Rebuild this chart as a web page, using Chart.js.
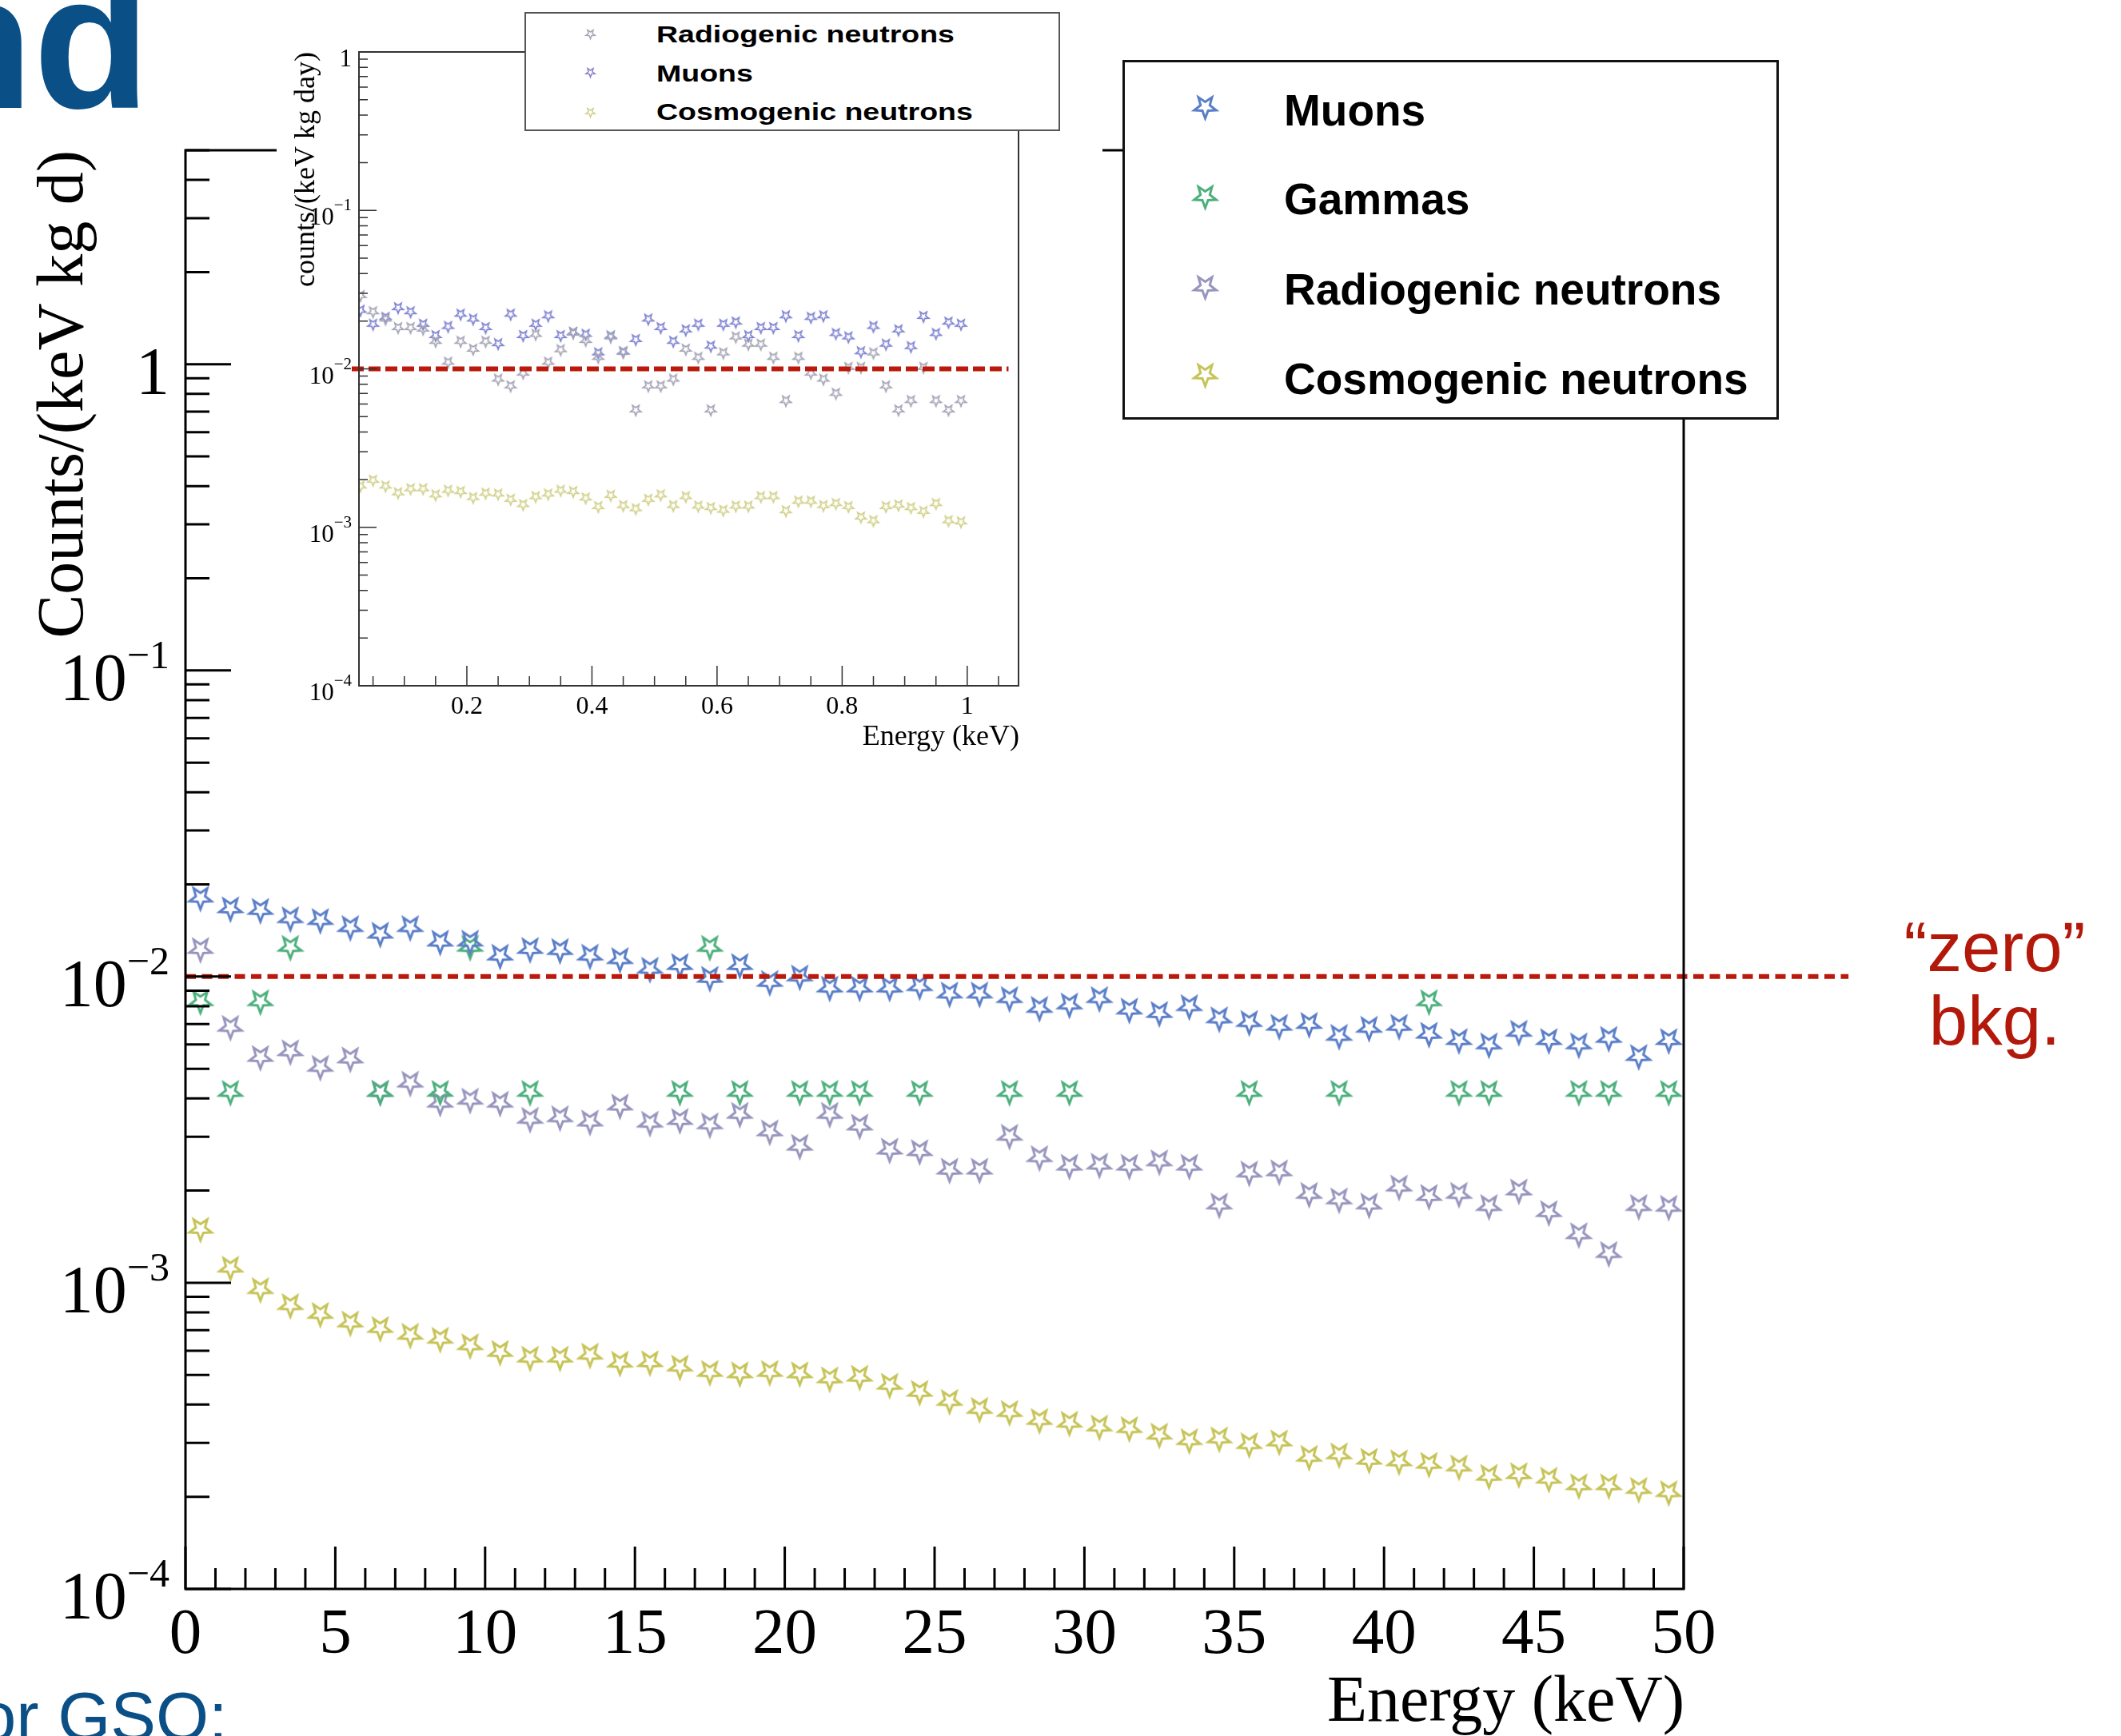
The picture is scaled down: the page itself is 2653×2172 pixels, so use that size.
<!DOCTYPE html>
<html>
<head>
<meta charset="utf-8">
<title>Background spectra</title>
<script src="https://cdn.jsdelivr.net/npm/chart.js@4.4.1/dist/chart.umd.min.js"></script>
<style>
  html, body { margin: 0; padding: 0; background: #fff; }
  #page { position: relative; width: 2653px; height: 2172px; overflow: hidden; background: #fff; }
  #main-chart { position: absolute; left: 0; top: 0; }
  #inset-pad { position: absolute; left: 346px; top: 0; width: 1033px; height: 960px; background: #fff; }
  #inset-chart { position: absolute; left: 0; top: 0; }
  .legend { position: absolute; box-sizing: border-box; background: #fff; }
  #main-legend { left: 1404px; top: 75px; width: 821px; height: 450px; border: 3px solid #111; }
  #inset-legend { left: 656px; top: 15px; width: 670px; height: 149px; border: 2px solid #555; }
  .legend .entry { position: absolute; white-space: nowrap; line-height: 1; color: #000;
    font-family: "Liberation Sans", Arial, sans-serif; font-weight: bold; transform-origin: left top; }
  .legend canvas { position: absolute; }
  .slide-text { position: absolute; white-space: nowrap; line-height: 1; font-family: "Liberation Sans", Arial, sans-serif; }
  #slide-title { left: -105px; top: -68px; font-size: 240px; font-weight: bold; color: #0b4f87; }
  #slide-sub { left: -27px; top: 2105px; font-size: 85px; color: #0b4f87; }
  #zero-note { left: 2315px; top: 1139px; width: 360px; text-align: center; font-size: 87px; line-height: 92px; color: #b3190b; }
</style>
</head>
<body>
<div id="page">
  <canvas id="main-chart" width="2653" height="2172"></canvas>
  <div id="inset-pad"><canvas id="inset-chart" width="1033" height="960"></canvas></div>
  <div class="legend" id="inset-legend"></div>
  <div class="legend" id="main-legend"></div>
  <div class="slide-text" id="slide-title">nd</div>
  <div class="slide-text" id="slide-sub">or GSO:</div>
  <div class="slide-text" id="zero-note">“zero”<br>bkg.</div>
</div>
<script>
/* ---------- main spectrum, 1 keV bins ---------- */
const energyBins = [
  0.5, 1.5, 2.5, 3.5, 4.5, 5.5, 6.5, 7.5, 8.5, 9.5,
  10.5, 11.5, 12.5, 13.5, 14.5, 15.5, 16.5, 17.5, 18.5, 19.5,
  20.5, 21.5, 22.5, 23.5, 24.5, 25.5, 26.5, 27.5, 28.5, 29.5,
  30.5, 31.5, 32.5, 33.5, 34.5, 35.5, 36.5, 37.5, 38.5, 39.5,
  40.5, 41.5, 42.5, 43.5, 44.5, 45.5, 46.5, 47.5, 48.5, 49.5
];

const muonsMain = [
  0.0181, 0.0167, 0.0165, 0.0155, 0.0153, 0.0145, 0.0138, 0.0145, 0.0130, 0.0130,
  0.0117, 0.0123, 0.0122, 0.0117, 0.0114, 0.0106, 0.0109, 0.0099, 0.0109, 0.0096,
  0.0100, 0.0092, 0.0092, 0.0092, 0.0093, 0.0088, 0.0088, 0.0085, 0.0079, 0.0081,
  0.0085, 0.0078, 0.0076, 0.0080, 0.0073, 0.0071, 0.0069, 0.0070, 0.0064, 0.0068,
  0.0069, 0.0065, 0.0062, 0.0060, 0.0066, 0.0062, 0.0060, 0.0063, 0.0055, 0.0062
];

// empty bins are null (nothing drawn on a log axis)
const gammasMain = [
  0.0083, 0.0042, 0.0083, 0.0125, null, null, 0.0042, null, 0.0042, 0.0125,
  null, 0.0042, null, null, null, null, 0.0042, 0.0125, 0.0042, null,
  0.0042, 0.0042, 0.0042, null, 0.0042, null, null, 0.0042, null, 0.0042,
  null, null, null, null, null, 0.0042, null, null, 0.0042, null,
  null, 0.0083, 0.0042, 0.0042, null, null, 0.0042, 0.0042, null, 0.0042
];

const radiogenicMain = [
  0.0123, 0.00685, 0.00546, 0.0057, 0.00507, 0.0054, 0.0042, 0.0045, 0.00387, 0.00396,
  0.00387, 0.00343, 0.00347, 0.00336, 0.00379, 0.00333, 0.0034, 0.00329, 0.00356, 0.00312,
  0.0028, 0.00356, 0.00326, 0.00272, 0.00269, 0.00234, 0.00234, 0.00302, 0.00257, 0.00241,
  0.00243, 0.00241, 0.00249, 0.00241, 0.0018, 0.00229, 0.00231, 0.00195, 0.00187, 0.0018,
  0.00206, 0.00192, 0.00195, 0.00178, 0.0020, 0.0017, 0.00144, 0.00125, 0.00178, 0.00177
];

const cosmogenicMain = [
  0.0015, 0.00112, 0.000953, 0.000845, 0.000791, 0.000741, 0.000711, 0.000676, 0.000656, 0.000625,
  0.000594, 0.000569, 0.000569, 0.000582, 0.000548, 0.00055, 0.000532, 0.000511, 0.000506, 0.000511,
  0.000506, 0.000487, 0.000493, 0.000464, 0.00044, 0.000411, 0.000387, 0.000378, 0.000356, 0.000349,
  0.000339, 0.000335, 0.000319, 0.000306, 0.00031, 0.000297, 0.000303, 0.00027, 0.000275, 0.000264,
  0.000261, 0.000256, 0.000251, 0.000234, 0.000237, 0.000229, 0.000218, 0.000218, 0.000212, 0.000207
];

/* ---------- low-energy zoom, 20 eV bins ---------- */
const insetEnergy = [
  0.03, 0.05, 0.07, 0.09, 0.11, 0.13, 0.15, 0.17, 0.19, 0.21,
  0.23, 0.25, 0.27, 0.29, 0.31, 0.33, 0.35, 0.37, 0.39, 0.41,
  0.43, 0.45, 0.47, 0.49, 0.51, 0.53, 0.55, 0.57, 0.59, 0.61,
  0.63, 0.65, 0.67, 0.69, 0.71, 0.73, 0.75, 0.77, 0.79, 0.81,
  0.83, 0.85, 0.87, 0.89, 0.91, 0.93, 0.95, 0.97, 0.99
];

const insetRadiogenic = [
  0.029, 0.0229, 0.0206, 0.0182, 0.0182, 0.0178, 0.0149, 0.0110, 0.0149, 0.0133,
  0.0149, 0.0086, 0.0078, 0.0094, 0.0165, 0.0110, 0.0132, 0.0168, 0.0151, 0.0118,
  0.0159, 0.0127, 0.0055, 0.0078, 0.0078, 0.0086, 0.0133, 0.0118, 0.0055, 0.0126,
  0.0159, 0.0143, 0.0143, 0.0118, 0.0063, 0.0118, 0.0094, 0.0086, 0.0070, 0.0102,
  0.0102, 0.0126, 0.0078, 0.0055, 0.0063, 0.0102, 0.0063, 0.0055, 0.0063
];

const insetMuons = [
  0.0234, 0.0191, 0.0211, 0.0243, 0.0229, 0.0191, 0.0162, 0.0185, 0.0221, 0.0206,
  0.0182, 0.0144, 0.0221, 0.0162, 0.0191, 0.0216, 0.0162, 0.0170, 0.0165, 0.0126,
  0.0161, 0.0128, 0.0153, 0.0206, 0.0182, 0.0149, 0.0176, 0.0191, 0.0139, 0.0191,
  0.0197, 0.0162, 0.0182, 0.0182, 0.0216, 0.0162, 0.0211, 0.0216, 0.0167, 0.0159,
  0.0128, 0.0185, 0.0143, 0.0176, 0.0138, 0.0214, 0.0167, 0.0197, 0.0191
];

const insetCosmogenic = [
  0.00182, 0.00198, 0.00182, 0.00165, 0.00175, 0.00175, 0.00160, 0.00171, 0.00168, 0.00154,
  0.00164, 0.00162, 0.00150, 0.00139, 0.00156, 0.00162, 0.00171, 0.00168, 0.00153, 0.00135,
  0.00159, 0.00137, 0.00131, 0.00150, 0.00160, 0.00137, 0.00156, 0.00136, 0.00133, 0.00128,
  0.00136, 0.00136, 0.00156, 0.00156, 0.00127, 0.00146, 0.00146, 0.00137, 0.00141, 0.00135,
  0.00116, 0.00110, 0.00135, 0.00138, 0.00133, 0.00126, 0.00141, 0.00110, 0.00108
];

/* ---------- axes ---------- */
const mainXTickValues = [0, 5, 10, 15, 20, 25, 30, 35, 40, 45, 50];
const mainXTickLabels = ['0', '5', '10', '15', '20', '25', '30', '35', '40', '45', '50'];
const insetXTickValues = [0.2, 0.4, 0.6, 0.8, 1];
const insetXTickLabels = ['0.2', '0.4', '0.6', '0.8', '1'];
const yDecades = [1e-4, 1e-3, 1e-2, 1e-1, 1];
const yExponents = [-4, -3, -2, -1, 0];

const ZERO_BKG = 1e-2;

const mainNames = ['Muons', 'Gammas', 'Radiogenic neutrons', 'Cosmogenic neutrons'];
const insetNames = ['Radiogenic neutrons', 'Muons', 'Cosmogenic neutrons'];

const COLORS = {
  muons: '#5a7ec8',
  gammas: '#4caf7c',
  radiogenic: '#9795bd',
  cosmogenic: '#c6c357',
  insetMuons: '#7f83d2',
  insetRadiogenic: '#a5a5b6',
  insetCosmogenic: '#d2d18c',
  zero: '#bb190b'
};

/**
 * Open five-point star (point down), returned as a canvas usable as pointStyle
 */
function starImage(color, r, lw) {
  const size = Math.ceil(2 * r + 2 * lw + 4);
  const c = document.createElement('canvas');
  c.width = size;
  c.height = size;
  const g = c.getContext('2d');
  const cx = size / 2, cy = size / 2;
  g.beginPath();
  for (let k = 0; k < 10; k++) {
    const rad = k % 2 === 0 ? r : r * 0.42;
    const a = Math.PI / 2 + k * Math.PI / 5;
    g.lineTo(cx + rad * Math.cos(a), cy + rad * Math.sin(a));
  }
  g.closePath();
  g.strokeStyle = color;
  g.lineWidth = lw;
  g.lineJoin = 'miter';
  g.stroke();
  return c;
}

function toPoints(xs, ys) {
  return xs.map((x, i) => ({ x: x, y: ys[i] })).filter(p => p.y !== null);
}

function stepList(from, to, step) {
  const out = [];
  for (let i = 0; from + i * step <= to + 1e-9; i++) {
    out.push(Math.round((from + i * step) * 1e6) / 1e6);
  }
  return out;
}

/** "10" with a raised exponent, right-aligned at x */
function drawPower(ctx, x, y, exp, o) {
  ctx.textAlign = 'right';
  if (exp === 0) {
    ctx.font = o.baseFont;
    ctx.fillText('1', x, y);
    return;
  }
  const sup = '\u2212' + Math.abs(exp);
  ctx.font = o.supFont;
  const w = ctx.measureText(sup).width;
  ctx.fillText(sup, x, y - o.supRaise);
  ctx.font = o.baseFont;
  ctx.fillText('10', x - w, y);
}

/**
 * ROOT-style frame: box, inward ticks, log labels, axis titles
 */
const rootFrame = {
  id: 'rootFrame',
  afterDraw(chart, args, o) {
    const { ctx, chartArea: a } = chart;
    const xs = chart.scales.x, ys = chart.scales.y;
    ctx.save();
    ctx.strokeStyle = o.color;
    ctx.fillStyle = '#000';

    ctx.lineWidth = o.frameWidth;
    ctx.strokeRect(a.left, a.top, a.right - a.left, a.bottom - a.top);

    ctx.lineWidth = o.tickWidth;
    ctx.beginPath();
    o.xTicks.forEach(v => {
      const px = xs.getPixelForValue(v);
      const major = o.xLabelValues.some(m => Math.abs(m - v) < 1e-6);
      ctx.moveTo(px, a.bottom);
      ctx.lineTo(px, a.bottom - (major ? o.xMajorLen : o.xMinorLen));
    });
    yDecades.forEach(d => {
      for (let m = 1; m <= 9; m++) {
        const v = m * d;
        if (v > ys.max * 1.0001) continue;
        const py = ys.getPixelForValue(v);
        ctx.moveTo(a.left, py);
        ctx.lineTo(a.left + (m === 1 ? o.yMajorLen : o.yMinorLen), py);
      }
    });
    ctx.stroke();

    // tick labels
    ctx.textBaseline = 'alphabetic';
    ctx.textAlign = 'center';
    ctx.font = o.xLabelFont;
    o.xLabelValues.forEach((v, i) => {
      ctx.fillText(o.xLabels[i], xs.getPixelForValue(v), a.bottom + o.xLabelDrop);
    });
    yDecades.forEach((d, i) => {
      drawPower(ctx, a.left - o.yLabelGap, ys.getPixelForValue(d) + o.yLabelDrop, yExponents[i], o);
    });

    // axis titles, both flush with the axis end
    ctx.font = o.titleFont;
    ctx.textAlign = 'right';
    ctx.fillText(o.xTitle, a.right + 1, a.bottom + o.xTitleDrop);
    ctx.font = o.yTitleFont;
    ctx.translate(o.yTitleX, a.top);
    ctx.rotate(-Math.PI / 2);
    ctx.fillText(o.yTitle, 0, 0);
    ctx.restore();
  }
};

function zeroLine(x0, x1, width, dash) {
  return {
    type: 'line',
    label: 'zero',
    data: [{ x: x0, y: ZERO_BKG }, { x: x1, y: ZERO_BKG }],
    borderColor: COLORS.zero,
    borderWidth: width,
    borderDash: dash,
    pointRadius: 0,
    clip: false,
    order: 0
  };
}

function starSet(label, xs, ys, img) {
  return {
    label: label,
    data: toPoints(xs, ys),
    pointStyle: img,
    pointRadius: 10,
    order: 1
  };
}

const serif = '"Liberation Serif", "Times New Roman", serif';

/* ---------- main chart ---------- */
const mainStars = {
  muons: starImage(COLORS.muons, 14.5, 3),
  gammas: starImage(COLORS.gammas, 14.5, 3),
  radiogenic: starImage(COLORS.radiogenic, 14.5, 3),
  cosmogenic: starImage(COLORS.cosmogenic, 14.5, 3)
};

new Chart(document.getElementById('main-chart'), {
  type: 'scatter',
  data: {
    datasets: [
      zeroLine(0, 55.5, 6, [13, 7.5]),
      starSet(mainNames[0], energyBins, muonsMain, mainStars.muons),
      starSet(mainNames[1], energyBins, gammasMain, mainStars.gammas),
      starSet(mainNames[2], energyBins, radiogenicMain, mainStars.radiogenic),
      starSet(mainNames[3], energyBins, cosmogenicMain, mainStars.cosmogenic)
    ]
  },
  options: {
    responsive: false,
    animation: false,
    events: [],
    layout: { padding: { left: 232, top: 188, right: 547, bottom: 184 } },
    scales: {
      x: { type: 'linear', min: 0, max: 50, display: false },
      y: { type: 'logarithmic', min: 1e-4, max: 5, display: false }
    },
    plugins: {
      legend: { display: false },
      tooltip: { enabled: false },
      rootFrame: {
        color: '#000', frameWidth: 3, tickWidth: 3,
        xTicks: stepList(0, 50, 1), xLabelValues: mainXTickValues, xLabels: mainXTickLabels,
        xMajorLen: 53, xMinorLen: 26, yMajorLen: 57, yMinorLen: 30,
        xLabelFont: '81px ' + serif, xLabelDrop: 80,
        baseFont: '84px ' + serif, supFont: '50px ' + serif, supRaise: 40,
        yLabelGap: 20, yLabelDrop: 37,
        titleFont: '82px ' + serif, xTitle: 'Energy (keV)', xTitleDrop: 165,
        yTitleFont: '82px ' + serif, yTitle: 'Counts/(keV kg d)', yTitleX: 103
      }
    }
  },
  plugins: [rootFrame]
});

/* ---------- inset chart ---------- */
const insetStars = {
  radiogenic: starImage(COLORS.insetRadiogenic, 7, 1.7),
  muons: starImage(COLORS.insetMuons, 7, 1.7),
  cosmogenic: starImage(COLORS.insetCosmogenic, 7, 1.7)
};

new Chart(document.getElementById('inset-chart'), {
  type: 'scatter',
  data: {
    datasets: [
      zeroLine(0.016, 1.066, 6, [15, 6]),
      starSet(insetNames[0], insetEnergy, insetRadiogenic, insetStars.radiogenic),
      starSet(insetNames[1], insetEnergy, insetMuons, insetStars.muons),
      starSet(insetNames[2], insetEnergy, insetCosmogenic, insetStars.cosmogenic)
    ]
  },
  options: {
    responsive: false,
    animation: false,
    events: [],
    layout: { padding: { left: 103, top: 65, right: 105, bottom: 102 } },
    scales: {
      x: { type: 'linear', min: 0.0275, max: 1.082, display: false },
      y: { type: 'logarithmic', min: 1e-4, max: 1, display: false }
    },
    plugins: {
      legend: { display: false },
      tooltip: { enabled: false },
      rootFrame: {
        color: '#333', frameWidth: 2, tickWidth: 1.5,
        xTicks: stepList(0.05, 1.05, 0.05), xLabelValues: insetXTickValues, xLabels: insetXTickLabels,
        xMajorLen: 25, xMinorLen: 12, yMajorLen: 22, yMinorLen: 11,
        xLabelFont: '32px ' + serif, xLabelDrop: 35,
        baseFont: '31px ' + serif, supFont: '21px ' + serif, supRaise: 18,
        yLabelGap: 9, yLabelDrop: 18,
        titleFont: '36px ' + serif, xTitle: 'Energy (keV)', xTitleDrop: 74,
        yTitleFont: '36px ' + serif, yTitle: 'counts/(keV kg day)', yTitleX: 47
      }
    }
  },
  plugins: [rootFrame]
});

/* ---------- legends ---------- */
function buildLegend(el, names, images, layout) {
  names.forEach((name, i) => {
    const img = images[i];
    img.style.left = (layout.markerX - img.width / 2) + 'px';
    img.style.top = (layout.markerY[i] - img.height / 2) + 'px';
    el.appendChild(img);
    const t = document.createElement('div');
    t.className = 'entry';
    t.textContent = name;
    t.style.left = layout.textX + 'px';
    t.style.top = layout.textTop[i] + 'px';
    t.style.fontSize = layout.fontSize + 'px';
    if (layout.stretch) t.style.transform = 'scaleX(' + layout.stretch + ')';
    el.appendChild(t);
  });
}

buildLegend(document.getElementById('main-legend'), mainNames, [
  starImage(COLORS.muons, 14.5, 3),
  starImage(COLORS.gammas, 14.5, 3),
  starImage(COLORS.radiogenic, 14.5, 3),
  starImage(COLORS.cosmogenic, 14.5, 3)
], { markerX: 100, markerY: [55, 167, 280, 390], textX: 199, textTop: [33, 144, 257, 369], fontSize: 55 });

buildLegend(document.getElementById('inset-legend'), insetNames, [
  starImage(COLORS.insetRadiogenic, 6, 1.5),
  starImage('#8a82c8', 6, 1.5),
  starImage(COLORS.insetCosmogenic, 6, 1.5)
], { markerX: 80, markerY: [25, 73, 123], textX: 163, textTop: [11, 60, 108], fontSize: 30, stretch: 1.25 });
</script>
</body>
</html>
